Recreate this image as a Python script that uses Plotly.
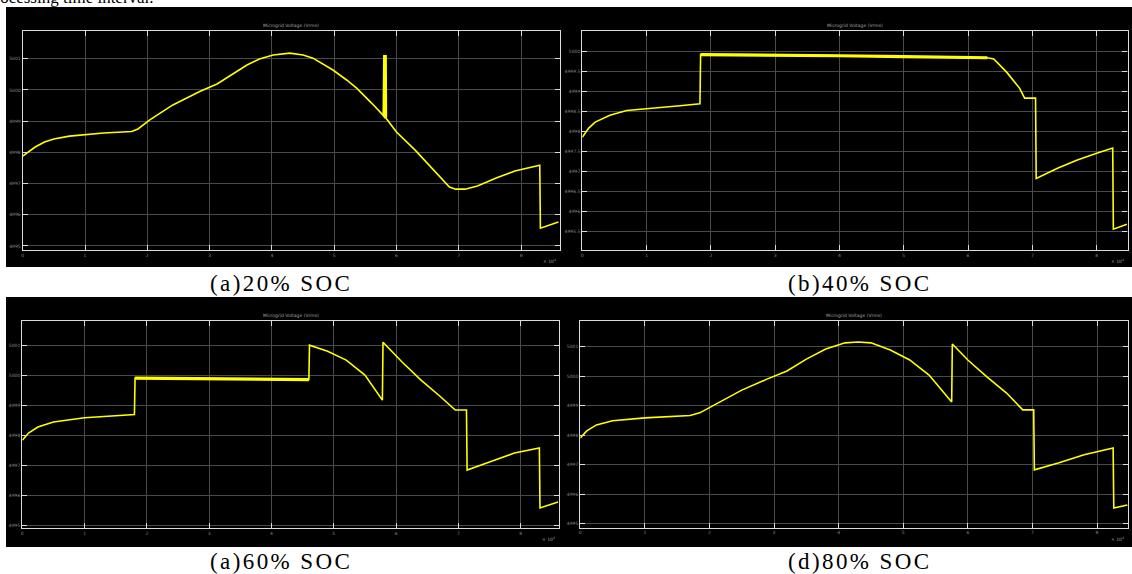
import plotly.graph_objects as go

W, H = 1132, 574

# ---------------- data (time in units of 1e4 s, voltage in Vrms) ----------------
t_a = [0, 0.1, 0.2, 0.35, 0.5, 0.75, 1.0, 1.3, 1.6, 1.75, 1.85, 2.04, 2.41, 2.7, 2.85, 3.12, 3.4, 3.6,
       3.8, 4.02, 4.29, 4.5, 4.66, 4.98, 5.2, 5.36, 5.6, 5.8, 5.81, 5.815, 5.82, 5.825, 5.83, 6.0, 6.3,
       6.6, 6.85, 6.95, 7.1, 7.3, 7.6, 7.9, 8.1, 8.3, 8.31, 8.6]
v_a = [4997.88, 4998.04, 4998.17, 4998.33, 4998.43, 4998.52, 4998.57, 4998.62, 4998.65, 4998.67,
       4998.75, 4999.04, 4999.52, 4999.80, 4999.96, 5000.19, 5000.54, 5000.80, 5000.99, 5001.12,
       5001.18, 5001.12, 5001.02, 5000.64, 5000.32, 5000.06, 4999.58, 4999.16, 5001.12, 4999.12,
       5001.12, 4999.12, 4999.10, 4998.65, 4998.07, 4997.43, 4996.89, 4996.82, 4996.82, 4996.92,
       4997.18, 4997.40, 4997.50, 4997.59, 4995.57, 4995.77]

t_b = [0, 0.1, 0.2, 0.43, 0.69, 1.0, 1.52, 1.83, 1.84, 3.0, 4.0, 5.0, 6.3, 6.4, 6.6, 6.8, 6.88, 7.05,
       7.06, 7.4, 7.7, 8.0, 8.25, 8.26, 8.47]
v_b = [4997.86, 4998.09, 4998.24, 4998.41, 4998.53, 4998.57, 4998.65, 4998.70, 4999.93, 4999.92,
       4999.90, 4999.88, 4999.85, 4999.82, 4999.49, 4999.09, 4998.84, 4998.84, 4996.83, 4997.09,
       4997.29, 4997.46, 4997.59, 4995.56, 4995.68]

t_c = [0, 0.1, 0.25, 0.5, 1.0, 1.57, 1.8, 1.81, 3.0, 4.0, 4.6, 4.61, 4.9, 5.2, 5.5, 5.78, 5.79, 6.1,
       6.4, 6.7, 6.95, 7.13, 7.14, 7.5, 7.9, 8.3, 8.31, 8.6]
v_c = [4997.84, 4998.08, 4998.28, 4998.45, 4998.59, 4998.67, 4998.70, 4999.92, 4999.90, 4999.89,
       4999.87, 5001.02, 5000.82, 5000.52, 5000.02, 4999.18, 5001.12, 5000.45, 4999.85, 4999.32,
       4998.85, 4998.85, 4996.84, 4997.11, 4997.41, 4997.58, 4995.57, 4995.77]

t_d = [0, 0.1, 0.25, 0.5, 1.0, 1.5, 1.7, 1.85, 2.1, 2.5, 2.9, 3.2, 3.5, 3.8, 4.1, 4.3, 4.5, 4.8, 5.1,
       5.4, 5.75, 5.76, 6.0, 6.3, 6.6, 6.8, 6.85, 7.02, 7.03, 7.4, 7.8, 8.25, 8.26, 8.47]
v_d = [4997.91, 4998.15, 4998.35, 4998.49, 4998.59, 4998.66, 4998.67, 4998.76, 4999.06, 4999.53,
       4999.91, 5000.18, 5000.58, 5000.92, 5001.13, 5001.16, 5001.13, 5000.89, 5000.55, 5000.04,
       4999.13, 5001.09, 5000.55, 4999.97, 4999.43, 4998.96, 4998.86, 4998.86, 4996.83, 4997.06,
       4997.34, 4997.57, 4995.54, 4995.64]

# index ranges of the noisy (thick-looking) stretches of each trace
thick_a = (27, 33)
thick_b = (8, 13)
thick_c = (7, 11)
thick_d = None

x_ticks = [0, 1, 2, 3, 4, 5, 6, 7, 8]
y_ticks_a = [4995, 4996, 4997, 4998, 4999, 5000, 5001]
y_ticks_b = [4995.5, 4996, 4996.5, 4997, 4997.5, 4998, 4998.5, 4999, 4999.5, 5000]
y_ticks_c = [4995, 4996, 4997, 4998, 4999, 5000, 5001]
y_ticks_d = [4995, 4996, 4997, 4998, 4999, 5000, 5001]

captions = ["(a)20% SOC", "(b)40% SOC", "(a)60% SOC", "(d)80% SOC"]
panel_title = "Microgrid Voltage (Vrms)"

# ---------------- layout helpers (pixel geometry) ----------------
def px(x):
    return x / W

def py(y):
    return 1 - y / H

def fmt(v):
    return ("%g" % v)

panels = [
    (t_a, v_a, y_ticks_a, thick_a, (22.7, 559.7), (31, 250.3), [0, 8.62], [4994.86, 5001.89]),
    (t_b, v_b, y_ticks_b, thick_b, (582.3, 1127.5), (31, 250.3), [0, 8.48], [4995.03, 5000.52]),
    (t_c, v_c, y_ticks_c, thick_c, (22.3, 559.3), (321.3, 528.3), [0, 8.62], [4994.89, 5001.82]),
    (t_d, v_d, y_ticks_d, thick_d, (580.3, 1128), (321.3, 527.7), [0, 8.48], [4994.87, 5001.86]),
]

fig = go.Figure()

shapes = [
    dict(type="rect", xref="paper", yref="paper", x0=px(6), x1=1.0, y0=py(267), y1=py(7),
         fillcolor="#000000", line=dict(width=0), layer="below"),
    dict(type="rect", xref="paper", yref="paper", x0=px(6), x1=1.0, y0=py(547), y1=py(297),
         fillcolor="#000000", line=dict(width=0), layer="below"),
]
annotations = []

axis_common = dict(
    showline=True, mirror="ticks", linecolor="#dcdcdc", linewidth=1.2,
    showgrid=True, gridcolor="#4a4a4a", gridwidth=1, zeroline=False,
    ticks="inside", ticklen=5, tickcolor="#dcdcdc", tickwidth=1,
    tickfont=dict(family="DejaVu Sans", size=4.5, color="#8a8a8a"),
)

for i, (t, v, yt, thick, (xl, xr), (yt_px, yb_px), xr_rng, yr_rng) in enumerate(panels):
    n = "" if i == 0 else str(i + 1)
    fig.add_trace(go.Scatter(x=t, y=v, mode="lines", line=dict(color="#ffff00", width=1.6),
                             xaxis="x" + n, yaxis="y" + n, showlegend=False, hoverinfo="skip"))
    if thick is not None:
        a, b = thick
        fig.add_trace(go.Scatter(x=t[a:b], y=v[a:b], mode="lines",
                                 line=dict(color="#ffff00", width=3.2),
                                 xaxis="x" + n, yaxis="y" + n, showlegend=False, hoverinfo="skip"))
    fig.layout["xaxis" + n] = dict(axis_common, domain=[px(xl), px(xr)], range=xr_rng,
                                   tickvals=x_ticks, ticktext=[str(k) for k in x_ticks],
                                   anchor="y" + n)
    fig.layout["yaxis" + n] = dict(axis_common, domain=[py(yb_px), py(yt_px)], range=yr_rng,
                                   tickvals=yt, ticktext=[fmt(k) for k in yt], anchor="x" + n)
    annotations.append(dict(text=panel_title, xref="paper", yref="paper",
                            x=px((xl + xr) / 2), y=py(yt_px - 1), xanchor="center", yanchor="bottom",
                            showarrow=False, font=dict(family="DejaVu Sans", size=4.5, color="#a0a0a0")))
    annotations.append(dict(text="× 10<sup>4</sup>", xref="paper", yref="paper",
                            x=px(xr - 2), y=py(yb_px + 6), xanchor="right", yanchor="top",
                            showarrow=False, font=dict(family="DejaVu Sans", size=4.5, color="#a0a0a0")))

cap_pos = [(281, 283), (859, 283), (281, 561), (859, 561)]
for txt, (cx, cy) in zip(captions, cap_pos):
    annotations.append(dict(text='<span style="letter-spacing:2.4px">' + txt + '</span>',
                            xref="paper", yref="paper", x=px(cx), y=py(cy),
                            xanchor="center", yanchor="middle", showarrow=False,
                            font=dict(family="Liberation Serif", size=23, color="#000000")))

annotations.append(dict(text="processing time interval.", xref="paper", yref="paper",
                        x=px(156), y=py(9), xanchor="right", yanchor="bottom", showarrow=False,
                        font=dict(family="Liberation Serif", size=17, color="#000000")))

fig.update_layout(width=W, height=H, margin=dict(l=0, r=0, t=0, b=0),
                  paper_bgcolor="#ffffff", plot_bgcolor="#000000",
                  shapes=shapes, annotations=annotations, showlegend=False)

fig.write_html("out.html", config={"displayModeBar": False},
               post_script="document.body.style.margin='0';document.body.style.overflow='hidden';")
